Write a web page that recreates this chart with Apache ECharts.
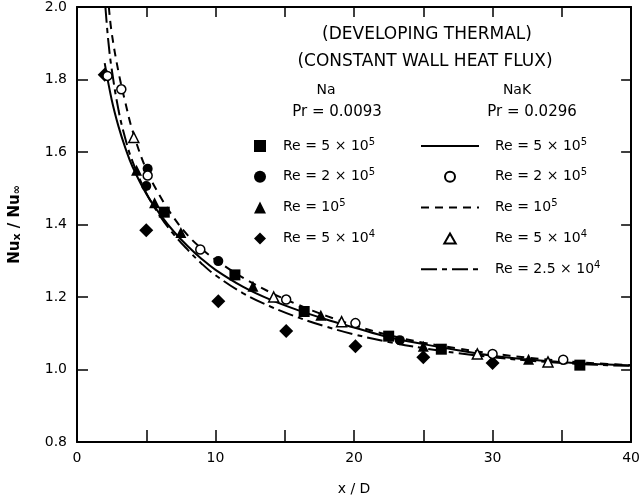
<!DOCTYPE html>
<html>
<head>
<meta charset="utf-8">
<script src="https://cdn.jsdelivr.net/npm/echarts@6/dist/echarts.min.js"></script>
<style>
html, body { margin: 0; padding: 0; background: #fff; }
#chart { width: 643px; height: 501px; }
</style>
</head>
<body>
<div id="chart"></div>
<script>
// Na, Pr = 0.0093 (filled symbols)  [x/D, Nux/Nu∞]
const naRe5e5 = [[6.3, 1.434], [11.4, 1.261], [16.4, 1.160], [22.5, 1.092], [26.3, 1.056], [36.3, 1.012]];
const naRe2e5 = [[5.1, 1.554], [5.0, 1.506], [10.2, 1.299], [23.3, 1.081]];
const naRe1e5 = [[4.3, 1.55], [5.6, 1.46], [7.5, 1.378], [12.7, 1.230], [17.6, 1.150], [25.0, 1.064], [32.6, 1.028]];
const naRe5e4 = [[2.0, 1.813], [5.0, 1.384], [10.2, 1.188], [15.1, 1.106], [20.1, 1.064], [25.0, 1.034], [30.0, 1.018]];

// NaK, Pr = 0.0296 (open symbols and curves)
const nakRe2e5 = [[2.2, 1.81], [3.2, 1.773], [5.1, 1.535], [8.9, 1.331], [15.1, 1.193], [20.1, 1.128], [30.0, 1.043], [35.1, 1.027]];
const nakRe5e4 = [[4.1, 1.640], [14.2, 1.200], [19.1, 1.132], [28.9, 1.043], [34.0, 1.021]];
const nakCurve5e5 = [[2, 1.845], [2.5, 1.745], [3, 1.67], [3.5, 1.61], [4, 1.56], [5, 1.485], [6, 1.428], [7, 1.38], [8, 1.34],
  [9, 1.305], [10, 1.275], [12, 1.228], [14, 1.192], [16, 1.163], [18, 1.138], [20, 1.116], [22.5, 1.089], [25, 1.07],
  [27.5, 1.053], [30, 1.038], [32.5, 1.028], [35, 1.02], [37.5, 1.015], [40, 1.011]];
const nakCurve1e5 = [[2.3, 2.0], [2.5, 1.93], [3, 1.82], [3.5, 1.735], [4, 1.66], [5, 1.552], [6, 1.478], [7, 1.418], [8, 1.37],
  [9, 1.333], [10, 1.303], [12, 1.253], [14, 1.212], [16, 1.178], [18, 1.148], [20, 1.122], [22.5, 1.095], [25, 1.074],
  [27.5, 1.058], [30, 1.044], [32.5, 1.033], [35, 1.024], [37.5, 1.017], [40, 1.012]];
const nakCurve25e4 = [[2.05, 2.0], [2.25, 1.91], [2.5, 1.83], [3, 1.715], [3.5, 1.635], [4, 1.575], [5, 1.487], [6, 1.423],
  [7, 1.372], [8, 1.33], [9, 1.292], [10, 1.26], [12, 1.21], [14, 1.173], [16, 1.143], [18, 1.118], [20, 1.097],
  [22.5, 1.076], [25, 1.059], [27.5, 1.045], [30, 1.034], [32.5, 1.025], [35, 1.018], [37.5, 1.013], [40, 1.01]];

const xTicks = [0, 10, 20, 30, 40];
const legendNa = ['na5e5', 'na2e5', 'na1e5', 'na5e4'];
const legendNaK = ['nak5e5', 'nak2e5', 'nak1e5', 'nak5e4', 'nak25e4'];
const legendText = {
  na5e5: 'Re = 5 × 10{s|5}', na2e5: 'Re = 2 × 10{s|5}', na1e5: 'Re = 10{s|5}', na5e4: 'Re = 5 × 10{s|4}',
  nak5e5: 'Re = 5 × 10{s|5}', nak2e5: 'Re = 2 × 10{s|5}', nak1e5: 'Re = 10{s|5}', nak5e4: 'Re = 5 × 10{s|4}',
  nak25e4: 'Re = 2.5 × 10{s|4}'
};
const lineSeries = ['nak5e5', 'nak1e5', 'nak25e4'];

const FONT = 'DejaVu Sans';
const chart = echarts.init(document.getElementById('chart'));

const legendStyle = {
  fontFamily: FONT, fontSize: 14, color: '#000', lineHeight: 18,
  rich: { s: { fontFamily: FONT, fontSize: 10, color: '#000', verticalAlign: 'top', lineHeight: 12 } }
};

const filled = { color: '#000', opacity: 1 };
const hollow = { color: '#fff', borderColor: '#000', borderWidth: 1.5, opacity: 1 };
const noDot = { color: 'rgba(0,0,0,0)', borderWidth: 0, opacity: 0 };

function legendItems(names) {
  return names.map(n => {
    if (lineSeries.includes(n)) return { name: n, itemStyle: noDot };
    if (n === 'nak5e4') return { name: n, icon: 'path://M4,0 L8,7 L0,7 Z' };
    return { name: n };
  });
}

chart.setOption({
  backgroundColor: '#fff',
  animation: false,
  grid: { left: 77, right: 1, top: 6, bottom: 58 },
  xAxis: [{
    type: 'value', min: 0, max: 40, interval: 5,
    axisLine: { onZero: false, lineStyle: { color: '#000', width: 2 } },
    axisTick: { inside: true, length: 12, lineStyle: { color: '#000', width: 1.5 } },
    axisLabel: {
      color: '#000', fontFamily: FONT, fontSize: 14, margin: 9,
      formatter: v => xTicks.includes(v) ? String(v) : ''
    },
    splitLine: { show: false },
    name: 'x / D', nameLocation: 'middle', nameGap: 40,
    nameTextStyle: { color: '#000', fontFamily: FONT, fontSize: 14 }
  }, {
    type: 'value', position: 'top', min: 0, max: 40, interval: 5,
    axisLine: { onZero: false, lineStyle: { color: '#000', width: 2 } },
    axisTick: { inside: true, length: 10, lineStyle: { color: '#000', width: 1.5 } },
    axisLabel: { show: false },
    splitLine: { show: false }
  }],
  yAxis: [{
    type: 'value', min: 0.8, max: 2.0, interval: 0.2,
    axisLine: { onZero: false, lineStyle: { color: '#000', width: 2 } },
    axisTick: { inside: true, length: 11, lineStyle: { color: '#000', width: 1.5 } },
    axisLabel: { color: '#000', fontFamily: FONT, fontSize: 14, margin: 10, formatter: v => v.toFixed(1) },
    splitLine: { show: false },
    name: 'Nu{b|x} / Nu{b|∞}', nameLocation: 'middle', nameGap: 54,
    nameTextStyle: {
      color: '#000', fontFamily: FONT, fontSize: 15, fontWeight: 'bold',
      rich: { b: { fontFamily: FONT, fontSize: 11, fontWeight: 'bold', color: '#000', verticalAlign: 'bottom' } }
    }
  }, {
    type: 'value', position: 'right', min: 0.8, max: 2.0, interval: 0.2,
    axisLine: { onZero: false, lineStyle: { color: '#000', width: 2 } },
    axisTick: { inside: true, length: 10, lineStyle: { color: '#000', width: 1.5 } },
    axisLabel: { show: false },
    splitLine: { show: false }
  }],
  legend: [{
    data: legendItems(legendNa), orient: 'vertical', left: 254, top: 137, padding: 0,
    itemWidth: 12, itemHeight: 12, itemGap: 12.8, selectedMode: false,
    formatter: n => legendText[n],
    textStyle: Object.assign({ padding: [0, 0, 0, 12] }, legendStyle)
  }, {
    data: legendItems(legendNaK), orient: 'vertical', left: 420, top: 137, padding: 0,
    itemWidth: 58, itemHeight: 10, itemGap: 12.8, selectedMode: false, symbolKeepAspect: true,
    formatter: n => legendText[n],
    textStyle: Object.assign({ padding: [0, 0, 0, 11] }, legendStyle)
  }],
  graphic: [
    { type: 'text', x: 427, y: 35, style: { text: '(DEVELOPING THERMAL)', font: '17px "DejaVu Sans"', fill: '#000', align: 'center', verticalAlign: 'middle' } },
    { type: 'text', x: 425, y: 62, style: { text: '(CONSTANT WALL HEAT FLUX)', font: '17px "DejaVu Sans"', fill: '#000', align: 'center', verticalAlign: 'middle' } },
    { type: 'text', x: 326, y: 90, style: { text: 'Na', font: '14px "DejaVu Sans"', fill: '#000', align: 'center', verticalAlign: 'middle' } },
    { type: 'text', x: 337, y: 112, style: { text: 'Pr = 0.0093', font: '15px "DejaVu Sans"', fill: '#000', align: 'center', verticalAlign: 'middle' } },
    { type: 'text', x: 517, y: 90, style: { text: 'NaK', font: '14px "DejaVu Sans"', fill: '#000', align: 'center', verticalAlign: 'middle' } },
    { type: 'text', x: 532, y: 112, style: { text: 'Pr = 0.0296', font: '15px "DejaVu Sans"', fill: '#000', align: 'center', verticalAlign: 'middle' } }
  ],
  series: [
    { name: 'na5e5', type: 'scatter', data: naRe5e5, symbol: 'rect', symbolSize: 11, itemStyle: filled, z: 5 },
    { name: 'na2e5', type: 'scatter', data: naRe2e5, symbol: 'circle', symbolSize: 10, itemStyle: filled, z: 5 },
    { name: 'na1e5', type: 'scatter', data: naRe1e5, symbol: 'triangle', symbolSize: 11, itemStyle: filled, z: 5 },
    { name: 'na5e4', type: 'scatter', data: naRe5e4, symbol: 'diamond', symbolSize: 14, itemStyle: filled, z: 5 },
    { name: 'nak5e5', type: 'line', data: nakCurve5e5, symbol: 'none', smooth: 0.4,
      lineStyle: { color: '#000', width: 2 }, itemStyle: { color: '#000' }, z: 3 },
    { name: 'nak2e5', type: 'scatter', data: nakRe2e5, symbol: 'circle', symbolSize: 9, itemStyle: hollow, z: 6 },
    { name: 'nak1e5', type: 'line', data: nakCurve1e5, symbol: 'none', smooth: 0.4,
      lineStyle: { color: '#000', width: 2, type: [8, 6] }, itemStyle: { color: '#000' }, z: 3 },
    { name: 'nak5e4', type: 'scatter', data: nakRe5e4, symbol: 'triangle', symbolSize: 10, itemStyle: hollow, z: 6 },
    { name: 'nak25e4', type: 'line', data: nakCurve25e4, symbol: 'none', smooth: 0.4,
      lineStyle: { color: '#000', width: 2, type: [16, 5, 5, 5] }, itemStyle: { color: '#000' }, z: 3 }
  ]
});
</script>
</body>
</html>
